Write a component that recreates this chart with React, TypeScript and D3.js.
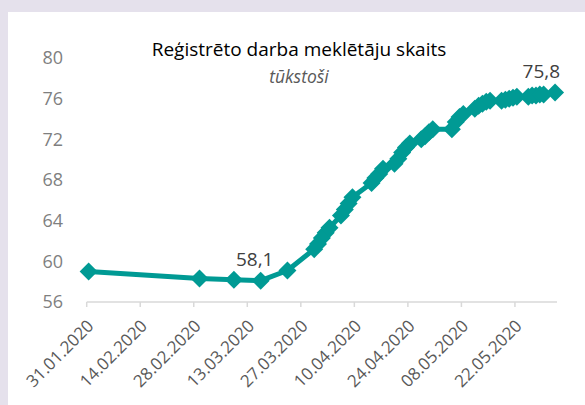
import React, { useEffect, useRef } from 'react';
import * as d3 from 'd3';

const dates = [
  '2020-01-31', '2020-02-29', '2020-03-09', '2020-03-16', '2020-03-23',
  '2020-03-30', '2020-03-31', '2020-04-01', '2020-04-02', '2020-04-03',
  '2020-04-06', '2020-04-07', '2020-04-08', '2020-04-09',
  '2020-04-14', '2020-04-15', '2020-04-16', '2020-04-17',
  '2020-04-20', '2020-04-21', '2020-04-22', '2020-04-23', '2020-04-24',
  '2020-04-27', '2020-04-28', '2020-04-29', '2020-04-30',
  '2020-05-05', '2020-05-06', '2020-05-07', '2020-05-08',
  '2020-05-11', '2020-05-12', '2020-05-13', '2020-05-14', '2020-05-15',
  '2020-05-18', '2020-05-19', '2020-05-20', '2020-05-21', '2020-05-22',
  '2020-05-25', '2020-05-26', '2020-05-27', '2020-05-28', '2020-05-29',
  '2020-06-01'
];
const values = [
  59.0, 58.3, 58.2, 58.1, 59.1,
  61.2, 61.7, 62.3, 62.8, 63.3,
  64.5, 65.1, 65.7, 66.3,
  67.7, 68.2, 68.6, 69.1,
  69.6, 70.1, 70.7, 71.2, 71.6,
  72.0, 72.3, 72.7, 73.0,
  73.0, 73.7, 74.2, 74.5,
  75.0, 75.3, 75.5, 75.7, 75.8,
  75.8, 75.9, 76.0, 76.1, 76.2,
  76.2, 76.3, 76.3, 76.4, 76.4,
  76.6
];
const yTicks = [56, 60, 64, 68, 72, 76, 80];
const xTickLabels = [
  '31.01.2020', '14.02.2020', '28.02.2020', '13.03.2020', '27.03.2020',
  '10.04.2020', '24.04.2020', '08.05.2020', '22.05.2020'
];
const labelDates = ['2020-03-16', '2020-06-01'];
const labelTexts = ['58,1', '75,8'];

const title = 'Reģistrēto darba meklētāju skaits';
const subtitle = 'tūkstoši';

const teal = '#009a94';

function App() {
  const ref = useRef(null);

  useEffect(() => {
    const width = 585;
    const height = 405;
    const svg = d3.select(ref.current);
    svg.selectAll('*').remove();

    const parse = d3.timeParse('%Y-%m-%d');
    const tickParse = d3.timeParse('%d.%m.%Y');
    const data = dates.map((d, i) => ({ date: parse(d), value: values[i] }));

    // background + white panel
    svg.append('rect').attr('width', width).attr('height', height).attr('fill', '#e5e1ec');
    svg.append('rect').attr('x', 8).attr('y', 12).attr('width', width - 8).attr('height', height - 12).attr('fill', '#fff');

    const first = data[0].date;
    const last = data[data.length - 1].date;
    const x = d3.scaleTime()
      .domain([d3.timeHour.offset(first, -12), d3.timeHour.offset(last, 12)])
      .range([86.7, 557]);
    const y = d3.scaleLinear().domain([56, 80]).range([302, 58]);

    // y labels
    svg.append('g')
      .selectAll('text')
      .data(yTicks)
      .enter()
      .append('text')
        .attr('x', 63)
        .attr('y', d => y(d))
        .attr('dy', '0.35em')
        .attr('text-anchor', 'end')
        .attr('fill', '#7f7f7f')
        .style('font-family', 'Open Sans')
        .style('font-size', '18px')
        .text(d => d);

    // x axis
    const xg = svg.append('g');
    xg.append('line')
      .attr('x1', x.range()[0]).attr('x2', x.range()[1])
      .attr('y1', 302).attr('y2', 302)
      .attr('stroke', '#d9d9d9').attr('stroke-width', 1.5);
    const ticks = xTickLabels.map(t => ({ label: t, date: tickParse(t) }));
    xg.selectAll('.tick')
      .data(ticks)
      .enter()
      .append('line')
        .attr('x1', d => x(d3.timeHour.offset(d.date, -12)))
        .attr('x2', d => x(d3.timeHour.offset(d.date, -12)))
        .attr('y1', 302).attr('y2', 307)
        .attr('stroke', '#d9d9d9').attr('stroke-width', 1.5);
    xg.selectAll('.lbl')
      .data(ticks)
      .enter()
      .append('text')
        .attr('transform', d => 'translate(' + (x(d3.timeHour.offset(d.date, -12)) + 8) + ',327) rotate(-45)')
        .attr('text-anchor', 'end')
        .attr('fill', '#595959')
        .style('font-family', 'Open Sans')
        .style('font-size', '17px')
        .text(d => d.label);

    // line
    const line = d3.line()
      .x(d => x(d.date))
      .y(d => y(d.value));
    svg.append('path')
      .datum(data)
      .attr('d', line)
      .attr('fill', 'none')
      .attr('stroke', teal)
      .attr('stroke-width', 5)
      .attr('stroke-linejoin', 'round');

    // diamond markers
    const diamond = d3.symbol().type(d3.symbolSquare).size(162);
    svg.append('g')
      .selectAll('path')
      .data(data)
      .enter()
      .append('path')
        .attr('d', diamond)
        .attr('transform', d => 'translate(' + x(d.date) + ',' + y(d.value) + ') rotate(45)')
        .attr('fill', teal);

    // data labels
    labelDates.forEach((ld, i) => {
      const p = data.find(d => +d.date === +parse(ld));
      const isLast = i === labelDates.length - 1;
      svg.append('text')
        .attr('x', isLast ? x(p.date) + 5 : x(p.date) - 6)
        .attr('y', y(p.value) - 15)
        .attr('text-anchor', isLast ? 'end' : 'middle')
        .attr('fill', '#404040')
        .style('font-family', 'Open Sans')
        .style('font-size', '19px')
        .text(labelTexts[i]);
    });

    // titles
    svg.append('text')
      .attr('x', 299).attr('y', 56)
      .attr('text-anchor', 'middle')
      .attr('fill', '#000')
      .style('font-family', 'Open Sans')
      .style('font-size', '19px')
      .text(title);
    svg.append('text')
      .attr('x', 299).attr('y', 83)
      .attr('text-anchor', 'middle')
      .attr('fill', '#595959')
      .style('font-family', 'Open Sans')
      .style('font-style', 'italic')
      .style('font-size', '17.5px')
      .text(subtitle);
  }, []);

  return (
    <div style={{ position: 'fixed', left: 0, top: 0 }}>
      <svg ref={ref} width={585} height={405} style={{ display: 'block' }}></svg>
    </div>
  );
}

export default App;
